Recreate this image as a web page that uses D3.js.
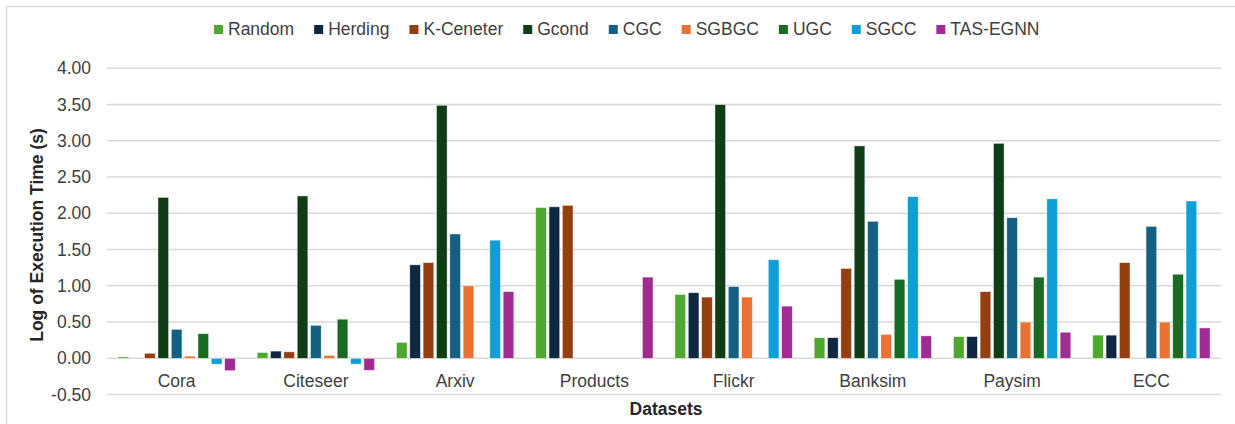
<!DOCTYPE html>
<html>
<head>
<meta charset="utf-8">
<script src="https://cdn.jsdelivr.net/npm/d3@7"></script>
<style>
  html, body { margin: 0; padding: 0; background: #fff; }
  svg { display: block; font-family: "Liberation Sans", Arial, sans-serif; }
</style>
</head>
<body>
<svg id="chart" width="1235" height="424"></svg>
<script>
// Datasets on the x axis
const datasets = ["Cora", "Citeseer", "Arxiv", "Products", "Flickr", "Banksim", "Paysim", "ECC"];

// Methods (one bar per method per dataset)
const methods = ["Random", "Herding", "K-Ceneter", "Gcond", "CGC", "SGBGC", "UGC", "SGCC", "TAS-EGNN"];

// Log of execution time (s); null = no result
const random   = [0.02, 0.08, 0.22, 2.08, 0.88, 0.285, 0.30, 0.32];
const herding  = [null, 0.10, 1.29, 2.09, 0.905, 0.285, 0.30, 0.32];
const kCenter  = [0.07, 0.09, 1.32, 2.11, 0.845, 1.24, 0.92, 1.32];
const gcond    = [2.22, 2.24, 3.49, null, 3.50, 2.93, 2.965, null];
const cgc      = [0.40, 0.455, 1.715, null, 0.99, 1.89, 1.94, 1.82];
const sgbgc    = [0.03, 0.04, 1.00, null, 0.845, 0.33, 0.50, 0.50];
const ugc      = [0.34, 0.54, null, null, null, 1.09, 1.12, 1.16];
const sgcc     = [-0.08, -0.08, 1.63, null, 1.36, 2.23, 2.20, 2.17];
const tasEgnn  = [-0.17, -0.165, 0.92, 1.12, 0.72, 0.31, 0.36, 0.42];

const yTicks = [-0.5, 0, 0.5, 1, 1.5, 2, 2.5, 3, 3.5, 4];

const colors = ["#4ea72e", "#0e2841", "#953f10", "#0f3e16", "#156082", "#e97132", "#196b24", "#0f9ed5", "#a02b93"];

const seriesValues = [random, herding, kCenter, gcond, cgc, sgbgc, ugc, sgcc, tasEgnn];

const FONT = 17.5;
const svg = d3.select("#chart");

// Outer chart frame
svg.append("rect")
  .attr("x", 6.5).attr("y", 6.5)
  .attr("width", 1240).attr("height", 430)
  .attr("fill", "none").attr("stroke", "#d9d9d9").attr("stroke-width", 1.5);

const plot = { left: 107, right: 1221, top: 68.3, bottom: 394.6 };

const x0 = d3.scaleBand().domain(datasets).range([plot.left, plot.right]).padding(0);
const x1 = d3.scaleBand().domain(methods).range([0, x0.bandwidth()])
  .paddingInner(0.2).paddingOuter(0.82);
const y = d3.scaleLinear().domain([-0.5, 4]).range([plot.bottom, plot.top]);
const color = d3.scaleOrdinal().domain(methods).range(colors);

// Horizontal gridlines
svg.append("g")
  .selectAll("line")
  .data(yTicks)
  .join("line")
  .attr("x1", plot.left).attr("x2", plot.right)
  .attr("y1", d => y(d)).attr("y2", d => y(d))
  .attr("stroke", "#d9d9d9").attr("stroke-width", 1.5);

// Y axis tick labels (plain hyphen for negatives)
const yAxis = d3.axisLeft(y).tickValues(yTicks).tickFormat(d => d.toFixed(2)).tickSize(0).tickPadding(16);
const yg = svg.append("g").attr("transform", `translate(${plot.left},0)`).call(yAxis);
yg.select(".domain").remove();
yg.selectAll("text").attr("font-size", FONT).attr("fill", "#404040")
  .attr("font-family", "Liberation Sans, Arial, sans-serif");

// Bars
const rows = [];
datasets.forEach((ds, i) => {
  methods.forEach((m, j) => {
    const v = seriesValues[j][i];
    if (v !== null) rows.push({ ds, m, v });
  });
});

svg.append("g")
  .selectAll("rect")
  .data(rows)
  .join("rect")
  .attr("x", d => x0(d.ds) + x1(d.m))
  .attr("width", x1.bandwidth())
  .attr("y", d => y(Math.max(0, d.v)))
  .attr("height", d => Math.abs(y(d.v) - y(0)))
  .attr("fill", d => color(d.m))
  .attr("stroke", "#ffffff").attr("stroke-opacity", 0.6).attr("stroke-width", 0.75);

// Category labels
const xAxis = d3.axisBottom(x0).tickSize(0).tickPadding(0);
const xg = svg.append("g").attr("transform", `translate(0,${y(0)})`).call(xAxis);
xg.select(".domain").remove();
xg.selectAll("text")
  .attr("y", 29)
  .attr("dy", 0)
  .attr("font-size", FONT).attr("fill", "#404040")
  .attr("font-family", "Liberation Sans, Arial, sans-serif");

// Axis titles
svg.append("text")
  .attr("x", (plot.left + plot.right) / 2 + 2).attr("y", 415)
  .attr("text-anchor", "middle")
  .attr("font-size", FONT).attr("font-weight", "bold").attr("fill", "#262626")
  .text("Datasets");

svg.append("text")
  .attr("transform", `translate(43,235) rotate(-90)`)
  .attr("text-anchor", "middle")
  .attr("font-size", FONT).attr("font-weight", "bold").attr("fill", "#262626")
  .text("Log of Execution Time (s)");

// Legend
const legend = svg.append("g");
let lx = 214;
methods.forEach(m => {
  const g = legend.append("g").attr("transform", `translate(${lx},0)`);
  g.append("rect").attr("x", 0).attr("y", 25).attr("width", 9).attr("height", 9).attr("fill", color(m));
  const t = g.append("text").attr("x", 14).attr("y", 35)
    .attr("font-size", FONT).attr("fill", "#404040").text(m);
  lx += 14 + t.node().getComputedTextLength() + 20;
});
</script>
</body>
</html>
